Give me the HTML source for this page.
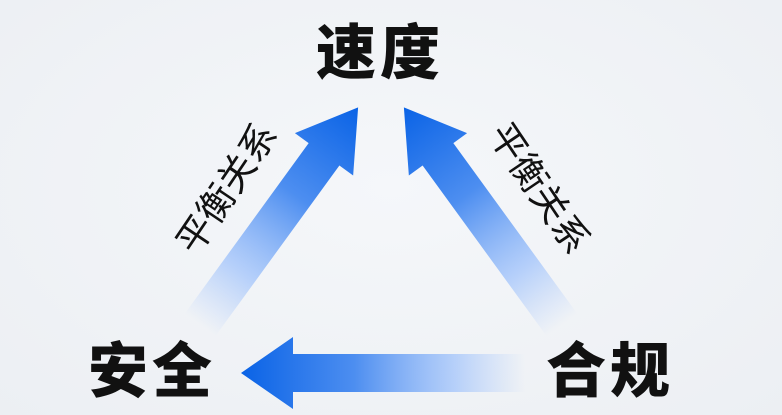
<!DOCTYPE html>
<html><head><meta charset="utf-8"><style>
html,body{margin:0;padding:0}
body{width:782px;height:415px;overflow:hidden;background:radial-gradient(ellipse at 50% 45%,#f5f7fa 0%,#eceff3 100%);font-family:"Liberation Sans","Noto Sans CJK SC",sans-serif;position:relative}
.t{position:absolute;font-weight:900;font-size:60px;color:#111;letter-spacing:4px;line-height:1}
.l{position:absolute;font-size:37px;color:#111;white-space:nowrap;line-height:1}
</style></head><body>
<svg width="782" height="415" style="position:absolute;left:0;top:0">
<defs>
<linearGradient id="g" x1="0" y1="0" x2="1" y2="0">
<stop offset="0" stop-color="#a9c8fb" stop-opacity="0"/>
<stop offset="0.25" stop-color="#9cc0fb" stop-opacity="0.7"/>
<stop offset="0.6" stop-color="#4d8ef0"/>
<stop offset="1" stop-color="#0a63e6"/>
</linearGradient>
</defs>
<g transform="translate(200,325) rotate(-54)">
<polygon points="0,-19 211,-19 211,-36 269,0 211,36 211,19 0,19" fill="url(#g)"/>
</g>
<g transform="translate(562,325) rotate(-126)">
<polygon points="0,-19 211,-19 211,-36 269,0 211,36 211,19 0,19" fill="url(#g)"/>
</g>
<g transform="translate(525,373) rotate(180)">
<polygon points="0,-19 232,-19 232,-36 284,0 232,36 232,19 0,19" fill="url(#g)"/>
</g>
</svg>
<div class="t" style="left:316px;top:24px">速度</div>
<div class="t" style="left:88px;top:342px">安全</div>
<div class="t" style="left:546px;top:342px">合规</div>
<div class="l" style="left:153px;top:170px;transform:rotate(-56deg)">平衡关系</div>
<div class="l" style="left:465px;top:170px;transform:rotate(56deg)">平衡关系</div>
</body></html>
